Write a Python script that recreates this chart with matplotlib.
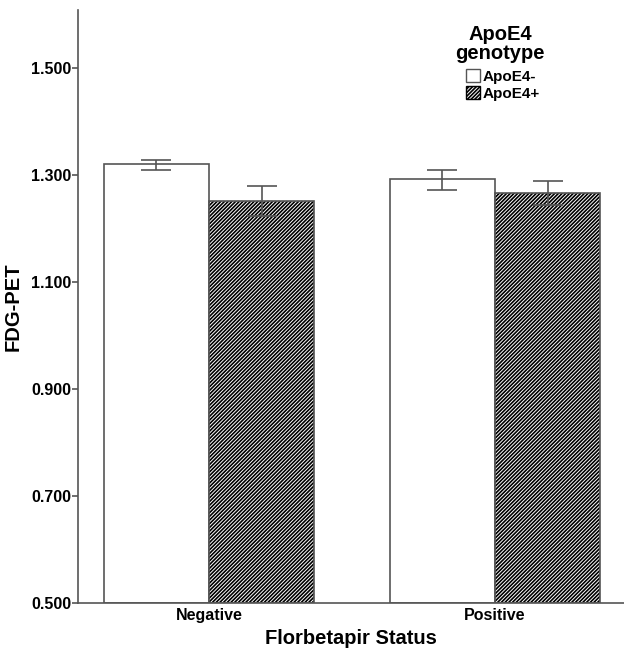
import numpy as np
import matplotlib.pyplot as plt
from matplotlib.patches import Patch

plt.rcParams['font.family'] = ['Liberation Sans', 'DejaVu Sans']
plt.rcParams['hatch.linewidth'] = 1.2

groups = ['Negative', 'Positive']
series = ['ApoE4-', 'ApoE4+']
means = {'ApoE4-': [1.319, 1.291], 'ApoE4+': [1.251, 1.266]}
err_lo = {'ApoE4-': [1.309, 1.272], 'ApoE4+': [1.223, 1.243]}
err_hi = {'ApoE4-': [1.328, 1.309], 'ApoE4+': [1.279, 1.289]}
yticks = [0.5, 0.7, 0.9, 1.1, 1.3, 1.5]

fig = plt.figure(figsize=(6.24, 6.51), dpi=100)
ax = fig.add_axes([0.125, 0.074, 0.875, 0.911])

x = np.arange(len(groups))
w = 0.368
HATCH = '/' * 9
hatches = {'ApoE4-': None, 'ApoE4+': HATCH}
for i, s in enumerate(series):
    pos = x + (i - 0.5) * w
    m = np.array(means[s])
    lo = m - np.array(err_lo[s])
    hi = np.array(err_hi[s]) - m
    if hatches[s]:
        # hatch drawn in black, outline drawn separately in grey
        ax.bar(pos, m - 0.5, bottom=0.5, width=w, facecolor='white', edgecolor='black',
               linewidth=0, hatch=hatches[s])
        ax.bar(pos, m - 0.5, bottom=0.5, width=w, fill=False, edgecolor='#555555',
               linewidth=1.2)
    else:
        ax.bar(pos, m - 0.5, bottom=0.5, width=w, facecolor='white', edgecolor='#555555',
               linewidth=1.2)
    ax.errorbar(pos, m, yerr=[lo, hi], fmt='none', ecolor='#555555', elinewidth=1.2,
                capsize=11, capthick=1.2)

ax.set_xlim(-0.458, 1.451)
ax.set_ylim(0.5, 1.608)
ax.set_yticks(yticks)
ax.set_yticklabels(['%.3f' % v for v in yticks], fontweight='bold', fontsize=11.5)
ax.set_xticks(x)
ax.set_xticklabels(groups, fontweight='bold', fontsize=11.5)
ax.tick_params(axis='x', length=0, pad=4)
ax.tick_params(axis='y', length=4, color='#555555', width=1.2, pad=1)
for sp in ['top', 'right']:
    ax.spines[sp].set_visible(False)
for sp in ['left', 'bottom']:
    ax.spines[sp].set_color('#555555')
    ax.spines[sp].set_linewidth(1.2)

ax.set_ylabel('FDG-PET', fontweight='bold', fontsize=14.5, labelpad=6)
ax.set_xlabel('Florbetapir Status', fontweight='bold', fontsize=14.5, labelpad=4)

# legend title as separate text
ax.text(0.773, 0.975, 'ApoE4\ngenotype', transform=ax.transAxes, ha='center', va='top',
        fontsize=14.5, fontweight='bold', linespacing=1.0)
handles = [Patch(facecolor='white', edgecolor='#555555', label='ApoE4-'),
           Patch(facecolor='white', edgecolor='black', hatch=HATCH, label='ApoE4+')]
leg = ax.legend(handles=handles, loc='upper left', bbox_to_anchor=(0.711, 0.9),
                frameon=False, prop={'weight': 'bold', 'size': 11},
                handlelength=0.92, handleheight=0.92, handletextpad=0.15,
                labelspacing=0.15, borderpad=0, borderaxespad=0)

fig.savefig('out.png', dpi=100)
